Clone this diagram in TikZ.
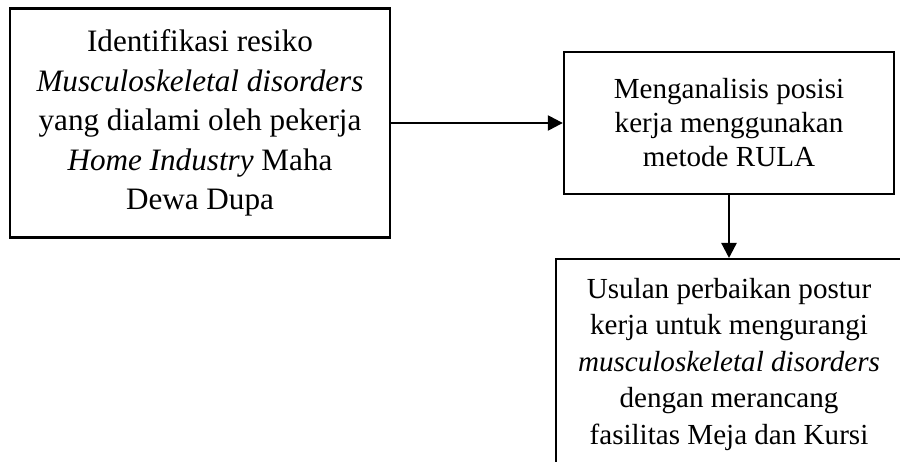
\documentclass[tikz,border=0pt]{standalone}
\usepackage{fontspec}
\setmainfont{Liberation Serif}
\usepackage{tikz}
\usetikzlibrary{arrows.meta,positioning}

\begin{document}
\begin{tikzpicture}[x=0.385pt, y=-0.385pt, line width=0.9pt,
    >={Triangle[length=5.8pt, width=5.8pt]},
    stepbox/.style={draw, align=center, inner sep=0pt}]
    \def\px{0.385pt}
    % Frame
    \useasboundingbox (0,0) rectangle (900,462);
    \clip (0,0) rectangle (900,462);
    % Boxes
    \node[stepbox, minimum width=380*\px, minimum height=229*\px,
          font=\fontsize{12}{15.2}\selectfont] (ident) at (200,123)
      {Identifikasi resiko\\ \textit{Musculoskeletal disorders}\\ yang dialami oleh pekerja\\
       \textit{Home Industry} Maha\\ Dewa Dupa};
    \node[stepbox, minimum width=330*\px, minimum height=142*\px,
          font=\fontsize{11.2}{13.1}\selectfont] (rula) at (729,123)
      {Menganalisis posisi\\ kerja menggunakan\\ metode RULA};
    \node[stepbox, minimum width=346*\px, minimum height=210*\px, anchor=north,
          font=\fontsize{11.2}{14.05}\selectfont] (usul) at (729,258)
      {Usulan perbaikan postur\\ kerja untuk mengurangi\\ \textit{musculoskeletal disorders}\\
       dengan merancang\\ fasilitas Meja dan Kursi};
    % Arrows
    \draw[->] (ident) -- (rula);
    \draw[->] (rula) -- (usul);
\end{tikzpicture}
\end{document}
